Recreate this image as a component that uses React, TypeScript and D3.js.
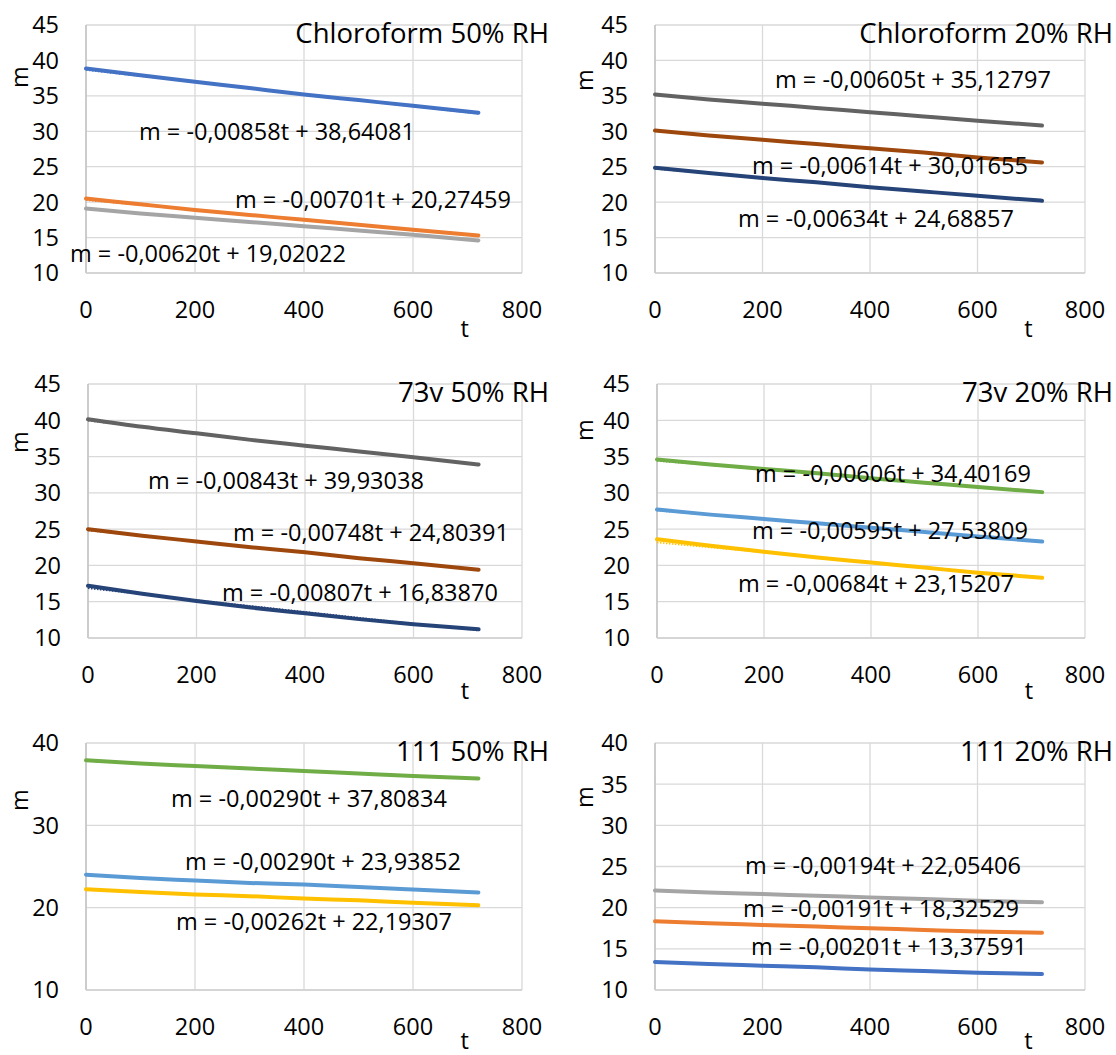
import React from 'react';
import * as d3 from 'd3';

const tSamples = [0, 100, 200, 300, 400, 500, 600, 720];
const xTicks = [0, 200, 400, 600, 800];
const yTicks45 = [10, 15, 20, 25, 30, 35, 40, 45];
const yTicks40 = [10, 20, 30, 40];
const yTicks40b = [10, 15, 20, 25, 30, 35, 40];

const titles = ['Chloroform 50% RH', 'Chloroform 20% RH', '73v 50% RH', '73v 20% RH', '111 50% RH', '111 20% RH'];

// Chloroform 50% RH
const chl50A = [38.85, 37.9, 37.0, 36.1, 35.2, 34.4, 33.6, 32.6];
const chl50B = [20.5, 19.7, 18.9, 18.2, 17.5, 16.8, 16.1, 15.3];
const chl50C = [19.1, 18.4, 17.8, 17.2, 16.6, 16.0, 15.4, 14.6];
const chl50Slopes = [-0.00858, -0.00701, -0.0062];
const chl50Intercepts = [38.64081, 20.27459, 19.02022];

// Chloroform 20% RH
const chl20A = [35.2, 34.5, 33.9, 33.3, 32.7, 32.1, 31.5, 30.8];
const chl20B = [30.1, 29.4, 28.8, 28.2, 27.6, 27.0, 26.3, 25.6];
const chl20C = [24.85, 24.1, 23.4, 22.8, 22.1, 21.5, 20.9, 20.2];
const chl20Slopes = [-0.00605, -0.00614, -0.00634];
const chl20Intercepts = [35.12797, 30.01655, 24.68857];

// 73v 50% RH
const v50A = [40.15, 39.1, 38.2, 37.3, 36.5, 35.7, 34.9, 33.9];
const v50B = [25.0, 24.1, 23.3, 22.5, 21.8, 21.0, 20.3, 19.4];
const v50C = [17.2, 16.1, 15.1, 14.2, 13.4, 12.6, 11.9, 11.2];
const v50Slopes = [-0.00843, -0.00748, -0.00807];
const v50Intercepts = [39.93038, 24.80391, 16.8387];

// 73v 20% RH
const v20A = [34.6, 33.9, 33.3, 32.7, 32.0, 31.4, 30.8, 30.1];
const v20B = [27.7, 27.0, 26.4, 25.8, 25.2, 24.6, 24.0, 23.3];
const v20C = [23.6, 22.7, 21.9, 21.1, 20.4, 19.7, 19.0, 18.3];
const v20Slopes = [-0.00606, -0.00595, -0.00684];
const v20Intercepts = [34.40169, 27.53809, 23.15207];

// 111 50% RH
const s50A = [37.9, 37.5, 37.2, 36.9, 36.6, 36.3, 36.0, 35.7];
const s50B = [24.0, 23.6, 23.3, 23.0, 22.8, 22.5, 22.2, 21.85];
const s50C = [22.25, 21.9, 21.6, 21.4, 21.1, 20.9, 20.6, 20.3];
const s50Slopes = [-0.0029, -0.0029, -0.00262];
const s50Intercepts = [37.80834, 23.93852, 22.19307];

// 111 20% RH
const s20A = [22.1, 21.85, 21.65, 21.45, 21.25, 21.05, 20.85, 20.65];
const s20B = [18.35, 18.1, 17.9, 17.7, 17.5, 17.3, 17.1, 16.95];
const s20C = [13.4, 13.15, 12.95, 12.75, 12.5, 12.3, 12.1, 11.95];
const s20Slopes = [-0.00194, -0.00191, -0.00201];
const s20Intercepts = [22.05406, 18.32529, 13.37591];

const palette1 = ['#4472C4', '#ED7D31', '#A5A5A5'];
const palette2 = ['#636363', '#9E480E', '#264478'];
const palette3 = ['#70AD47', '#5B9BD5', '#FFC000'];
const palette6 = ['#A5A5A5', '#ED7D31', '#4472C4'];

const panelSeries = [
  [chl50A, chl50B, chl50C],
  [chl20A, chl20B, chl20C],
  [v50A, v50B, v50C],
  [v20A, v20B, v20C],
  [s50A, s50B, s50C],
  [s20A, s20B, s20C],
];
const panelSlopes = [chl50Slopes, chl20Slopes, v50Slopes, v20Slopes, s50Slopes, s20Slopes];
const panelIntercepts = [chl50Intercepts, chl20Intercepts, v50Intercepts, v20Intercepts, s50Intercepts, s20Intercepts];
const panelColors = [palette1, palette2, palette2, palette3, palette3, palette6];
const panelYTicks = [yTicks45, yTicks45, yTicks45, yTicks45, yTicks40, yTicks40b];

// layout (plot boxes, label spots)
const boxes = [
  { l: 86, r: 522, t: 25, b: 273, titleX: 549, mX: 20, mY: 77, tY: 337 },
  { l: 655, r: 1085, t: 25, b: 273, titleX: 1113, mX: 585, mY: 80, tY: 337 },
  { l: 88, r: 522, t: 384, b: 638, titleX: 549, mX: 20, mY: 442, tY: 699 },
  { l: 657, r: 1085, t: 384, b: 638, titleX: 1113, mX: 585, mY: 430, tY: 699 },
  { l: 86, r: 522, t: 743, b: 990, titleX: 549, mX: 20, mY: 800, tY: 1049 },
  { l: 655, r: 1085, t: 743, b: 990, titleX: 1113, mX: 585, mY: 797, tY: 1049 },
];
const eqPos = [
  [[139, 140], [235, 208], [70, 262]],
  [[775, 88], [752, 174], [738, 227]],
  [[148, 489], [233, 541], [222, 601]],
  [[755, 482], [752, 539], [738, 592]],
  [[171, 807], [185, 870], [176, 930]],
  [[745, 874], [743, 917], [751, 955]],
];

const FONT = "'Open Sans', sans-serif";
const fmt = (v: number) => v.toFixed(5).replace('.', ',');

function Panel({ i }: { i: number }) {
  const box = boxes[i];
  const yT = panelYTicks[i];
  const x = d3.scaleLinear().domain([0, 800]).range([box.l, box.r]);
  const y = d3.scaleLinear().domain([yT[0], yT[yT.length - 1]]).range([box.b, box.t]);
  const line = d3.line<number>()
    .x((_, k) => x(tSamples[k]))
    .y((d) => y(d))
    .curve(d3.curveMonotoneX);

  return (
    <g>
      {/* grid */}
      {yT.map((v) => (
        <line key={'h' + v} x1={box.l} x2={box.r} y1={y(v)} y2={y(v)} stroke="#D9D9D9" strokeWidth={1.3} />
      ))}
      {xTicks.map((v) => (
        <line key={'v' + v} x1={x(v)} x2={x(v)} y1={box.t} y2={box.b} stroke="#D9D9D9" strokeWidth={1.3} />
      ))}
      <line x1={box.l} x2={box.l} y1={box.t} y2={box.b} stroke="#BFBFBF" strokeWidth={1.3} />
      <line x1={box.l} x2={box.r} y1={box.b} y2={box.b} stroke="#D0D0D0" strokeWidth={1.3} />

      {/* tick labels */}
      {yT.map((v) => (
        <text key={'yl' + v} x={box.l - 27} y={y(v)} dy="0.36em" textAnchor="end" fontSize={23.5}>{v}</text>
      ))}
      {xTicks.map((v) => (
        <text key={'xl' + v} x={x(v)} y={box.b + 45} textAnchor="middle" fontSize={23.5}>{v}</text>
      ))}

      {/* axis titles */}
      <text transform={`translate(${box.mX},${box.mY}) rotate(-90)`} dy="0.36em" textAnchor="middle" fontSize={23.5}>m</text>
      <text x={x(695)} y={box.tY} textAnchor="middle" fontSize={23.5}>t</text>

      {/* title */}
      <text x={box.titleX} y={box.t + 18} textAnchor="end" fontSize={27.5}>{titles[i]}</text>

      {/* data lines and dotted trend lines */}
      {panelSeries[i].map((vals, k) => (
        <g key={'s' + k}>
          <path d={line(vals) || ''} fill="none" stroke={panelColors[i][k]} strokeWidth={4} strokeLinecap="round" />
          <line
            x1={x(0)} y1={y(panelIntercepts[i][k])}
            x2={x(720)} y2={y(panelIntercepts[i][k] + panelSlopes[i][k] * 720)}
            stroke={panelColors[i][k]} strokeWidth={1.5} strokeDasharray="1.5,1.5" />
        </g>
      ))}

      {/* equations */}
      {eqPos[i].map((p, k) => (
        <text key={'eq' + k} x={p[0]} y={p[1]} fontSize={23.5}>
          {`m = ${fmt(panelSlopes[i][k])}t + ${fmt(panelIntercepts[i][k])}`}
        </text>
      ))}
    </g>
  );
}

export default function App() {
  return (
    <svg
      width={1116}
      height={1055}
      style={{ position: 'absolute', left: 0, top: 0, background: '#fff', fontFamily: FONT }}
      fill="#000"
    >
      <rect width={1116} height={1055} fill="#fff" />
      {boxes.map((_, i) => (
        <Panel key={i} i={i} />
      ))}
    </svg>
  );
}
